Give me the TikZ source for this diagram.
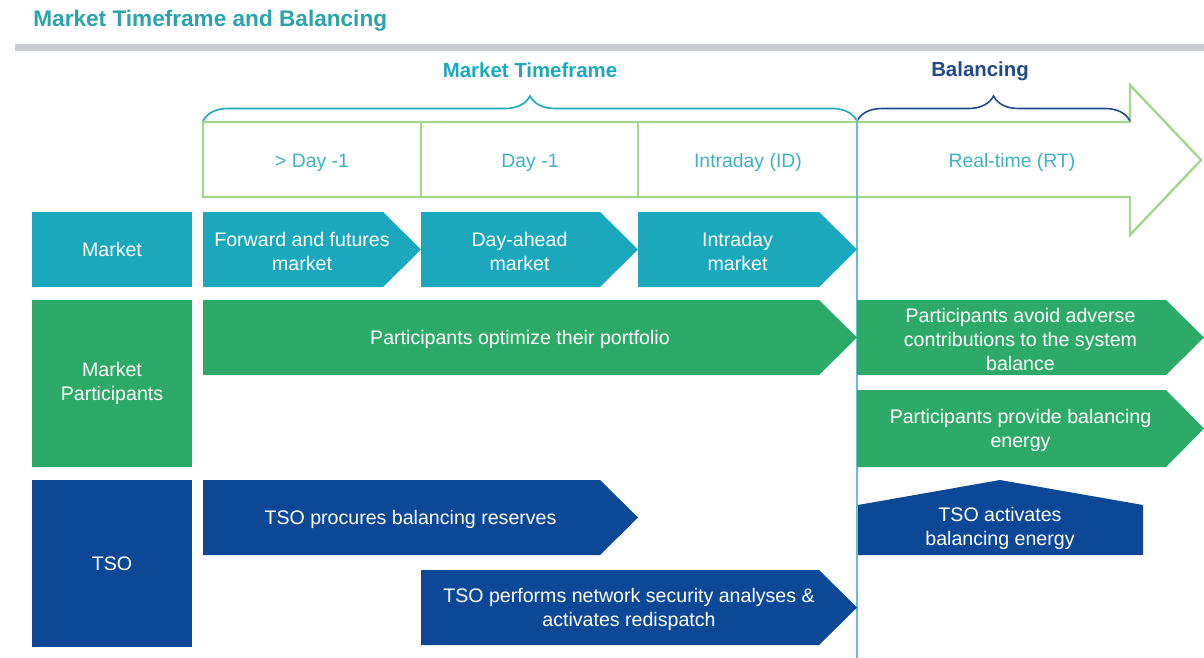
\documentclass[tikz,border=0pt]{standalone}
\usepackage{fontspec}
\setmainfont{Liberation Sans}
\usepackage{tikz}
\usetikzlibrary{decorations.pathreplacing, calc}

\definecolor{mkteal}{RGB}{27,168,189}
\definecolor{mpgreen}{RGB}{46,170,104}
\definecolor{tsoblue}{RGB}{12,72,150}
\definecolor{arrowgreen}{RGB}{163,214,140}
\definecolor{titleteal}{RGB}{42,163,170}
\definecolor{cellteal}{RGB}{60,178,194}
\definecolor{baldark}{RGB}{32,74,140}
\definecolor{bargray}{RGB}{200,205,209}

% flat-ended chevron: fill, name, x1, y1, tip x, y2, text
\newcommand{\chevron}[7]{%
  \fill[#1] (#3,#4) -- ({#5-38},#4) -- (#5,{(#4+#6)/2}) -- ({#5-38},#6) -- (#3,#6) -- cycle;
  \node[boxtext] (#2) at ({(#3+#5-20)/2},{(#4+#6)/2}) {#7};
}

\begin{document}
\begin{tikzpicture}[x=0.5pt, y=-0.5pt,
  boxtext/.style={text=white, align=center, yshift=-1pt, font=\fontsize{9.8}{12}\selectfont},
  rowlabel/.style={boxtext, rectangle, yshift=1pt, inner sep=0pt, minimum width=80pt},
  celltext/.style={text=cellteal, yshift=-1.2pt, font=\fontsize{9.7}{12}\selectfont},
  heading/.style={font=\bfseries\fontsize{10.2}{12}\selectfont}]
  \useasboundingbox (0,0) rectangle (1204,658);

  % title and rule
  \node[anchor=west, inner sep=0pt, text=titleteal, font=\bfseries\fontsize{11.3}{13}\selectfont] (title) at (33,21) {Market Timeframe and Balancing};
  \fill[bargray] (15,44) rectangle (1204,51);

  % time axis arrow
  \draw[arrowgreen, line width=1.2pt, line join=miter]
    (203,122) -- (1130,122) -- (1130,85) -- (1201,160) -- (1130,235) -- (1130,197) -- (203,197) -- cycle;
  \draw[arrowgreen, line width=1.2pt] (421,122) -- (421,197);
  \draw[arrowgreen, line width=1.2pt] (638,122) -- (638,197);
  \node[celltext] (dm2) at (312,160) {> Day -1};
  \node[celltext] (dm1) at (530,160) {Day -1};
  \node[celltext] (id) at (748,160) {Intraday (ID)};
  \node[celltext] (rt) at (1012,160) {Real-time (RT)};

  % braces
  \draw[mkteal, line width=0.8pt, decorate, decoration={brace, amplitude=12.5pt}] (203,121) -- (857,121);
  \draw[baldark, line width=0.8pt, decorate, decoration={brace, amplitude=12.5pt}] (857,121) -- (1130,121);
  \node[heading, text=mkteal] (mtf) at (530,70) {Market Timeframe};
  \node[heading, text=baldark] (bal) at (980,71) {Balancing};

  % gate closure line
  \draw[cellteal!80, line width=1pt] (857,118) -- (857,658);

  % row labels
  \node[rowlabel, fill=mkteal, minimum height=37.5pt] (market) at (112,249.5) {Market};
  \node[rowlabel, fill=mpgreen, minimum height=83.5pt] (mp) at (112,383.5) {Market\\Participants};
  \node[rowlabel, fill=tsoblue, minimum height=83.5pt] (tso) at (112,563.5) {TSO};

  % market row
  \chevron{mkteal}{fwd}{203}{212}{421}{287}{Forward and futures\\market}
  \chevron{mkteal}{da}{421}{212}{638}{287}{Day-ahead\\market}
  \chevron{mkteal}{intra}{638}{212}{857}{287}{Intraday\\market}

  % participants row
  \chevron{mpgreen}{optim}{203}{300}{857}{375}{Participants optimize their portfolio}
  \chevron{mpgreen}{avoid}{857}{300}{1204}{375}{Participants avoid adverse\\contributions to the system\\balance}
  \chevron{mpgreen}{provide}{857}{390}{1204}{467}{Participants provide balancing\\energy}

  % TSO row
  \chevron{tsoblue}{procure}{203}{480}{638}{555}{TSO procures balancing reserves}
  \chevron{tsoblue}{redisp}{421}{570}{857}{645}{TSO performs network security analyses \&\\activates redispatch}
  \fill[tsoblue] (858,505) -- (1000,480) -- (1143,505) -- (1143,555) -- (858,555) -- cycle;
  \node[boxtext] (activ) at (1000,526) {TSO activates\\balancing energy};
\end{tikzpicture}
\end{document}
